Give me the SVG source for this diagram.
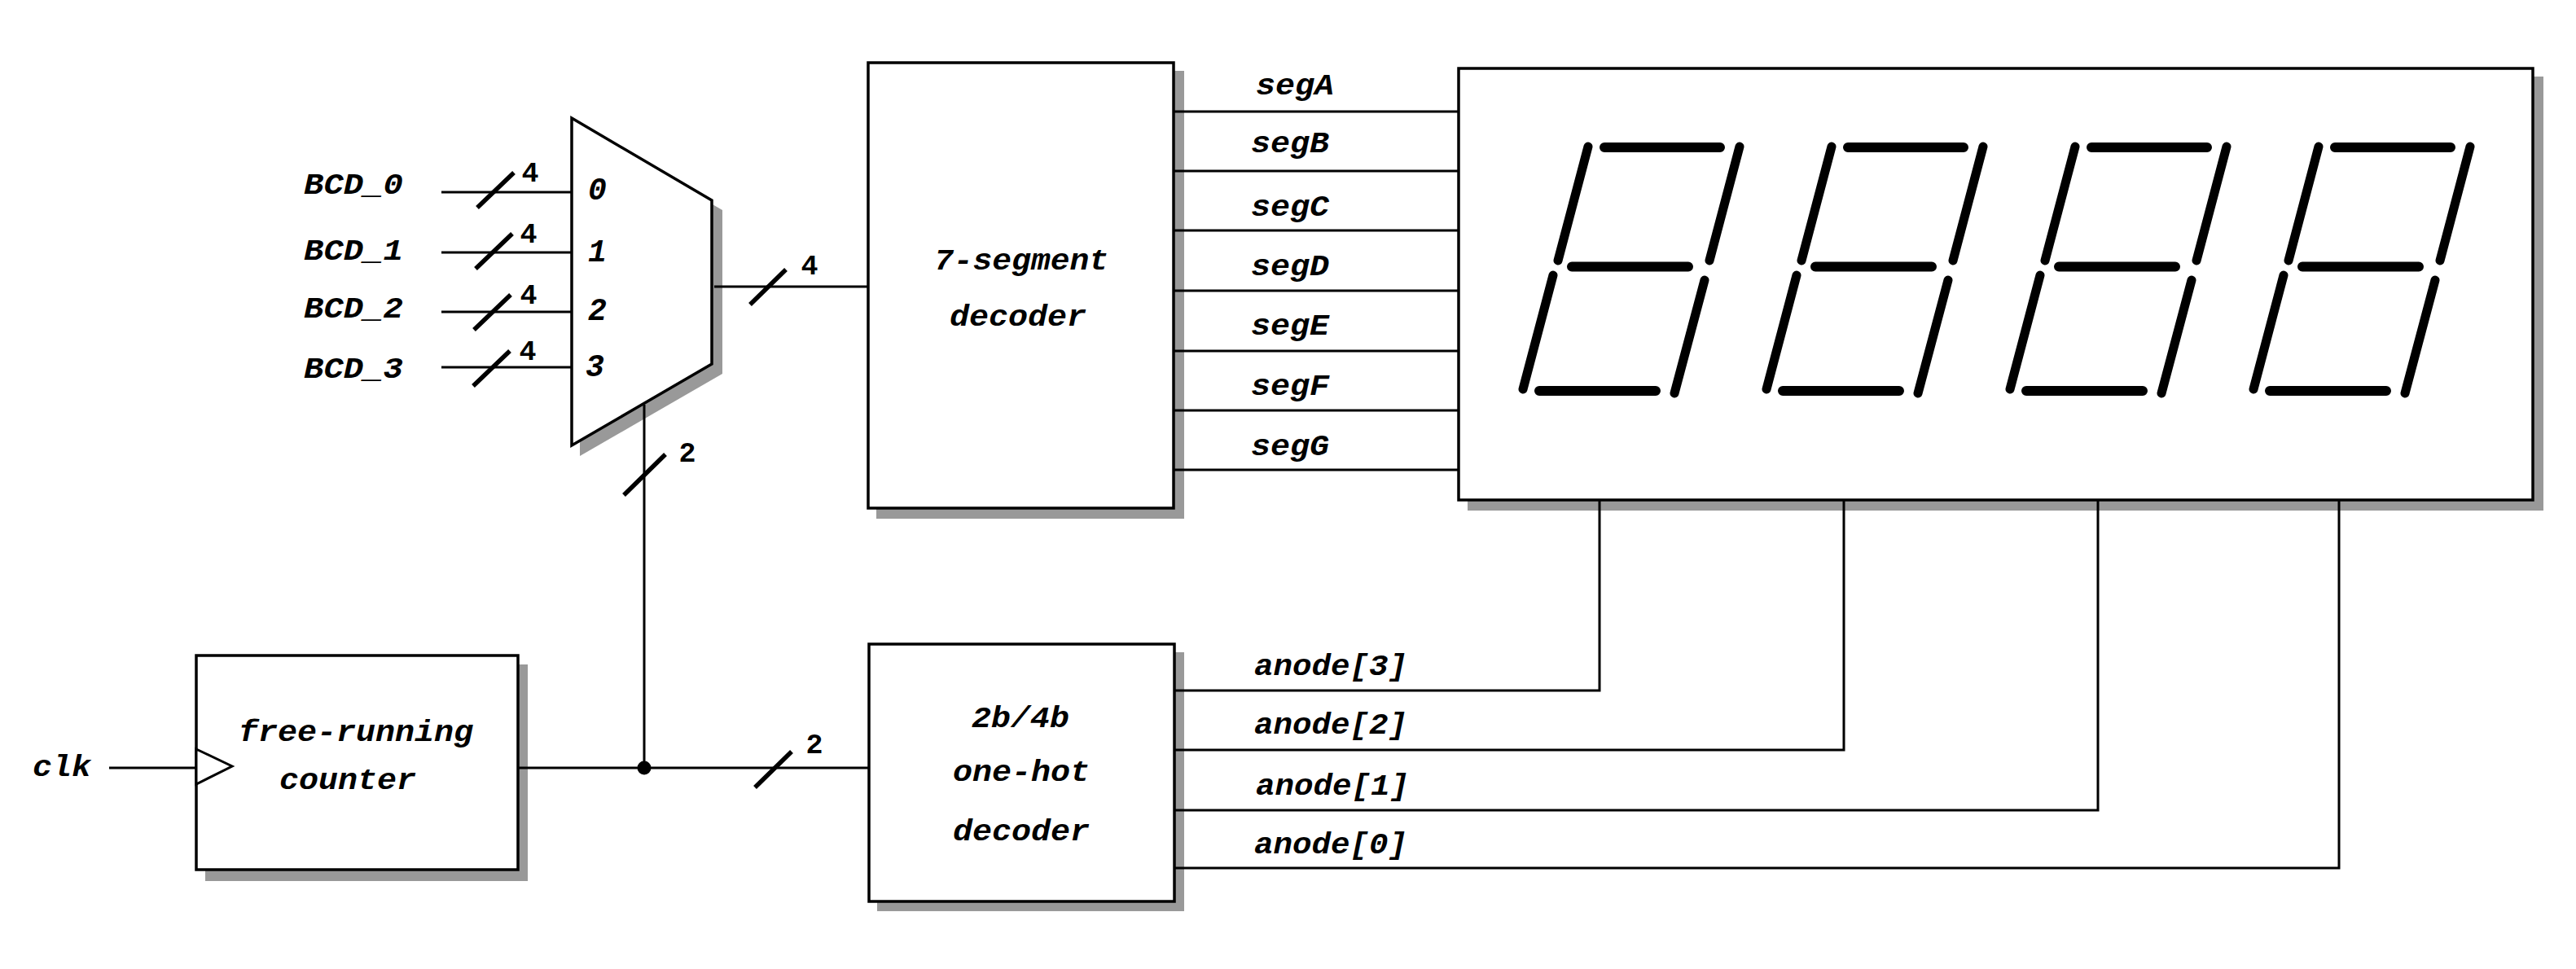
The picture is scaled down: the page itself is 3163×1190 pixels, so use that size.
<svg xmlns="http://www.w3.org/2000/svg" width="3163" height="1190" viewBox="0 0 3163 1190">
<style>
.shadow{fill:#999;stroke:none}
.box{fill:#fff;stroke:#000;stroke-width:3.5}
.clock{fill:#fff;stroke:#000;stroke-width:3}
.wire{fill:none;stroke:#000;stroke-width:3;stroke-linecap:butt}
.slash{fill:none;stroke:#000;stroke-width:5.5}
.seg{fill:none;stroke:#000;stroke-width:12;stroke-linecap:round}
.seg-v{fill:none;stroke:#000;stroke-width:11;stroke-linecap:round}
text{font-family:"Liberation Mono",monospace;font-weight:bold;font-style:italic;font-size:36px;fill:#000}
.n{font-style:normal;font-size:35px;text-anchor:middle}
.d{font-size:38px}
</style>
<defs>
<g id="digit">
<path class="seg" d="M1970 181H2112M1930 327.5H2073M1890 480H2033"/>
<path class="seg-v" d="M1950 180L1913 320M2136 180L2099 320M1907 338L1870 478M2093 344L2056 483"/>
</g>
</defs>
<rect width="3163" height="1190" fill="#fff"/>
<g id="mux"><polygon class="shadow" points="712,157 887,258 887,459 712,560"/><polygon class="box" points="702,145 874,246 874,447 702,547"/>
<text class="d" x="722" y="245">0</text><text class="d" x="722" y="321">1</text><text class="d" x="722" y="393">2</text><text class="d" x="719" y="462">3</text></g>
<g id="seg-decoder"><rect class="shadow" x="1076" y="87" width="378" height="550"/><rect class="box" x="1066" y="77" width="375" height="547"/>
<text x="1147" y="331" textLength="214" lengthAdjust="spacingAndGlyphs">7-segment</text><text x="1166" y="400" textLength="168" lengthAdjust="spacingAndGlyphs">decoder</text></g>
<g id="display"><rect class="shadow" x="1802" y="94" width="1321" height="533"/><rect class="box" x="1791" y="84" width="1319" height="530"/>
<use href="#digit"/><use href="#digit" x="299"/><use href="#digit" x="598"/><use href="#digit" x="897"/></g>
<g id="counter"><rect class="shadow" x="252" y="816" width="396" height="266"/><rect class="box" x="241" y="805" width="395" height="263"/>
<polygon class="clock" points="241,920 285,941 241,963"/>
<text x="293" y="910" textLength="288" lengthAdjust="spacingAndGlyphs">free-running</text><text x="343" y="969" textLength="168" lengthAdjust="spacingAndGlyphs">counter</text></g>
<g id="hot-decoder"><rect class="shadow" x="1077" y="801" width="377" height="318"/><rect class="box" x="1067" y="791" width="375" height="316"/>
<text x="1193" y="893" textLength="120" lengthAdjust="spacingAndGlyphs">2b/4b</text><text x="1170" y="959" textLength="168" lengthAdjust="spacingAndGlyphs">one-hot</text><text x="1170" y="1032" textLength="168" lengthAdjust="spacingAndGlyphs">decoder</text></g>
<g id="connectors">
<path class="wire" d="M542 236H702M542 310H702M542 383H702M542 451H702M877 352H1066M134 943H241M636 943H1067M791 497V943"/>
<path class="wire" d="M1441 137H1790M1441 210H1790M1441 283H1790M1441 357H1790M1441 431H1790M1441 504H1790M1441 577H1790"/>
<path class="wire" d="M1442 848H1964V614M1442 921H2264V614M1442 995H2576V614M1442 1066H2872V614"/>
<path class="slash" d="M631 212L586 255M629 287L584 330M627 362L582 405M626 431L581 474M965 331L921 374M817 558L766 608M972 923L927 967"/>
<circle cx="791" cy="943" r="8.5"/>
</g>
<g id="labels">
<text x="373" y="238" textLength="122" lengthAdjust="spacingAndGlyphs">BCD_0</text>
<text x="373" y="319" textLength="122" lengthAdjust="spacingAndGlyphs">BCD_1</text>
<text x="373" y="390" textLength="122" lengthAdjust="spacingAndGlyphs">BCD_2</text>
<text x="373" y="464" textLength="122" lengthAdjust="spacingAndGlyphs">BCD_3</text>
<text x="40" y="953" textLength="72" lengthAdjust="spacingAndGlyphs">clk</text>
<text class="n" x="651" y="223">4</text><text class="n" x="649" y="298">4</text><text class="n" x="649" y="373">4</text><text class="n" x="648" y="442">4</text><text class="n" x="994" y="337">4</text><text class="n" x="844" y="567">2</text><text class="n" x="1000" y="925">2</text>
<text x="1542" y="116" textLength="96" lengthAdjust="spacingAndGlyphs">segA</text>
<text x="1536" y="187" textLength="96" lengthAdjust="spacingAndGlyphs">segB</text>
<text x="1536" y="265" textLength="96" lengthAdjust="spacingAndGlyphs">segC</text>
<text x="1536" y="338" textLength="96" lengthAdjust="spacingAndGlyphs">segD</text>
<text x="1536" y="411" textLength="96" lengthAdjust="spacingAndGlyphs">segE</text>
<text x="1536" y="485" textLength="96" lengthAdjust="spacingAndGlyphs">segF</text>
<text x="1536" y="559" textLength="96" lengthAdjust="spacingAndGlyphs">segG</text>
<text x="1540" y="829" textLength="188" lengthAdjust="spacingAndGlyphs">anode[3]</text>
<text x="1540" y="901" textLength="188" lengthAdjust="spacingAndGlyphs">anode[2]</text>
<text x="1542" y="976" textLength="188" lengthAdjust="spacingAndGlyphs">anode[1]</text>
<text x="1540" y="1048" textLength="188" lengthAdjust="spacingAndGlyphs">anode[0]</text>
</g>
</svg>
